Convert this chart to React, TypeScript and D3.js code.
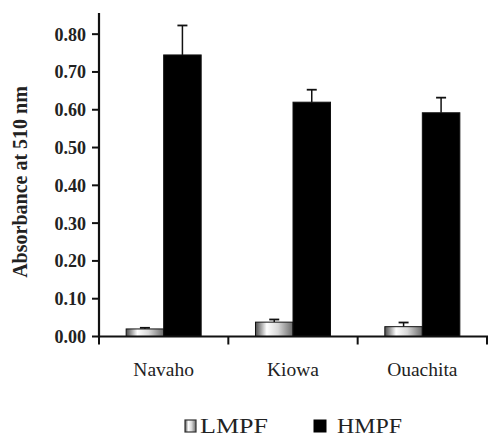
import React from "react";
import * as d3 from "d3";

const categories = ["Navaho", "Kiowa", "Ouachita"];
const seriesNames = ["LMPF", "HMPF"];
const lmpfValues = [0.020, 0.038, 0.026];
const lmpfErrors = [0.003, 0.007, 0.011];
const hmpfValues = [0.745, 0.620, 0.592];
const hmpfErrors = [0.078, 0.033, 0.040];
const yTicks = [0, 0.1, 0.2, 0.3, 0.4, 0.5, 0.6, 0.7, 0.8];
const yTickLabels = ["0.00", "0.10", "0.20", "0.30", "0.40", "0.50", "0.60", "0.70", "0.80"];
const yLabel = "Absorbance at 510 nm";

const FONT = "'Liberation Serif', 'Times New Roman', serif";

export default function App() {
  const W = 488, H = 437;
  const x0 = d3.scaleBand<string>().domain(categories).range([99, 487]).paddingInner(0.42).paddingOuter(0.21);
  const x1 = d3.scaleBand<string>().domain(seriesNames).range([0, x0.bandwidth()]).padding(0);
  const y = d3.scaleLinear().domain([0, 0.856]).range([336.5, 13]);
  const step = x0.step();
  const boundaries = categories.map((c) => (x0(c) as number) + x0.bandwidth() + step * 0.21);

  const series = [
    { name: "LMPF", values: lmpfValues, errors: lmpfErrors },
    { name: "HMPF", values: hmpfValues, errors: hmpfErrors },
  ];

  return (
    <svg width={W} height={H} style={{ position: "absolute", left: 0, top: 0, background: "#fff" }}>
      <defs>
        <linearGradient id="lg" x1="0" x2="1" y1="0" y2="0">
          <stop offset="0%" stopColor="#4a4a4a" />
          <stop offset="30%" stopColor="#ffffff" />
          <stop offset="60%" stopColor="#d8d8d8" />
          <stop offset="100%" stopColor="#6a6a6a" />
        </linearGradient>
      </defs>
      {series.map((s) =>
        categories.map((c, i) => {
          const bx = (x0(c) as number) + (x1(s.name) as number);
          const bw = x1.bandwidth();
          const top = y(s.values[i]);
          const et = y(s.values[i] + s.errors[i]);
          const cx = bx + bw / 2;
          return (
            <g key={s.name + c}>
              <line x1={cx} x2={cx} y1={top} y2={et} stroke="#111" strokeWidth={1.5} />
              <line x1={cx - 5} x2={cx + 5} y1={et} y2={et} stroke="#111" strokeWidth={1.8} />
              <rect x={bx} y={top} width={bw} height={y(0) - top}
                fill={s.name === "LMPF" ? "url(#lg)" : "#000"} stroke="#111" strokeWidth={1} />
            </g>
          );
        })
      )}
      <line x1={99} x2={99} y1={y(0.856)} y2={y(0) + 1} stroke="#111" strokeWidth={2.2} />
      {yTicks.map((t, i) => (
        <g key={t}>
          <line x1={92} x2={99} y1={y(t)} y2={y(t)} stroke="#111" strokeWidth={2} />
          <text x={86} y={y(t)} dy="0.36em" textAnchor="end" fontFamily={FONT} fontWeight="bold" fontSize={18} fill="#222">
            {yTickLabels[i]}
          </text>
        </g>
      ))}
      <line x1={98} x2={488} y1={y(0)} y2={y(0)} stroke="#111" strokeWidth={2.2} />
      {[99, ...boundaries].map((bx, i) => (
        <line key={i} x1={bx} x2={bx} y1={y(0)} y2={y(0) + 8} stroke="#111" strokeWidth={2} />
      ))}
      {categories.map((c) => (
        <text key={c} x={(x0(c) as number) + x0.bandwidth() / 2} y={376} textAnchor="middle" fontFamily={FONT} fontSize={19.5} fill="#222">
          {c}
        </text>
      ))}
      <text transform="translate(27,182) rotate(-90)" textAnchor="middle" fontFamily={FONT} fontWeight="bold" fontSize={20} fill="#222">
        {yLabel}
      </text>
      <rect x={185} y={420} width={11} height={12} fill="url(#lg)" stroke="#333" strokeWidth={1.2} />
      <text x={200} y={433} fontFamily={FONT} fontSize={22} fill="#222" textLength={68} lengthAdjust="spacingAndGlyphs">{seriesNames[0]}</text>
      <rect x={314} y={420} width={12} height={12} fill="#000" stroke="#000" />
      <text x={337} y={433} fontFamily={FONT} fontSize={22} fill="#222" textLength={65} lengthAdjust="spacingAndGlyphs">{seriesNames[1]}</text>
    </svg>
  );
}
